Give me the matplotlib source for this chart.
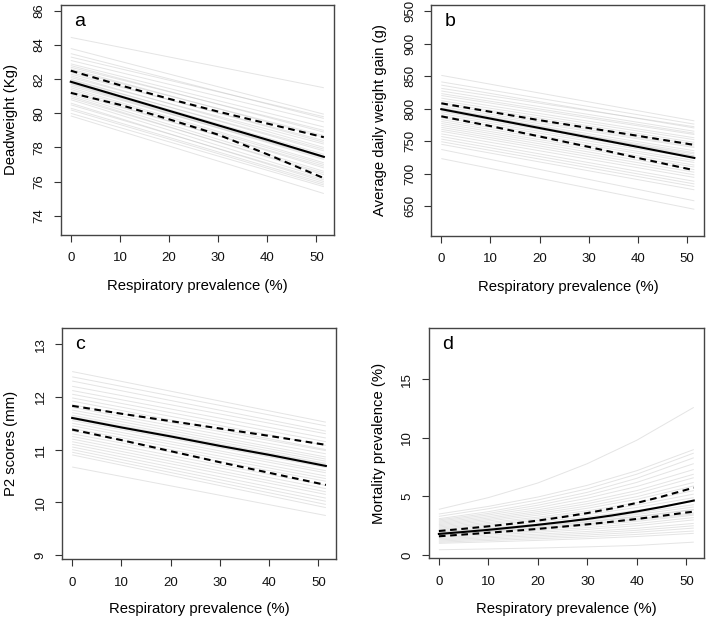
import matplotlib
matplotlib.use("Agg")
import matplotlib.pyplot as plt
import numpy as np

plt.rcParams['font.family'] = ['Liberation Sans', 'DejaVu Sans']

# ---------------- data ----------------
x_end = 51.5
x_pts = [0, 10, 20, 30, 40, 51.5]
x_fine = [0, 5, 10, 15, 20, 25, 30, 35, 40, 45, 50, 51.5]

# Panel a: Deadweight (Kg)
a_grey_start = [84.45, 83.8, 83.5, 83.3, 83.1, 82.9, 82.8, 82.7, 82.6, 82.5, 82.4, 82.3,
                82.2, 82.1, 82.0, 81.95, 81.9, 81.85, 81.8, 81.75, 81.7, 81.6, 81.5, 81.4,
                81.3, 81.2, 81.1, 81.0, 80.9, 80.8, 80.6, 80.5, 80.3, 80.2, 80.0, 79.85]
a_grey_end = [81.5, 79.95, 79.7, 79.8, 79.5, 79.2, 78.9, 79.0, 78.6, 78.7, 78.3, 78.4,
              78.0, 78.2, 77.8, 77.9, 77.6, 77.5, 77.45, 77.4, 77.3, 77.4, 77.1, 77.0,
              76.8, 76.9, 76.6, 76.4, 76.5, 76.2, 76.0, 76.1, 75.9, 75.8, 75.7, 75.3]
a_mean = [81.85, 81.0, 80.15, 79.3, 78.45, 77.45]
a_upper = [82.5, 81.65, 80.85, 80.1, 79.4, 78.6]
a_lower = [81.2, 80.5, 79.65, 78.75, 77.6, 76.2]

# Panel b: Average daily weight gain (g)
b_grey_start = [851, 841, 836, 831, 827, 823, 820, 816, 812, 809, 806, 803, 801, 800, 798,
                797, 795, 792, 789, 786, 783, 780, 777, 774, 771, 768, 765, 761, 757, 753,
                749, 745, 737, 723]
b_grey_end = [781, 776, 770, 772, 765, 762, 760, 755, 752, 748, 745, 742, 727, 740, 735,
              724, 732, 730, 727, 724, 720, 717, 713, 710, 706, 702, 698, 694, 688, 684,
              680, 675, 658, 645]
b_mean = [799, 784.5, 770, 755.5, 741, 724]
b_upper = [808, 795, 782, 770, 758, 744]
b_lower = [788, 773, 757, 741, 724, 705]

# Panel c: P2 scores (mm)
c_grey_start = [12.48, 12.38, 12.3, 12.2, 12.12, 12.05, 11.98, 11.92, 11.85, 11.8, 11.75,
                11.7, 11.65, 11.62, 11.6, 11.58, 11.55, 11.5, 11.45, 11.4, 11.35, 11.3,
                11.25, 11.2, 11.15, 11.1, 11.05, 11.0, 10.95, 10.9, 10.67]
c_grey_end = [11.52, 11.45, 11.35, 11.3, 11.22, 11.15, 11.08, 11.0, 10.98, 10.92, 10.86,
              10.82, 10.78, 10.74, 10.72, 10.68, 10.66, 10.6, 10.56, 10.5, 10.45, 10.4,
              10.32, 10.26, 10.2, 10.15, 10.08, 10.02, 9.96, 9.9, 9.75]
c_mean = [11.6, 11.42, 11.25, 11.07, 10.9, 10.69]
c_upper = [11.83, 11.68, 11.54, 11.40, 11.26, 11.09]
c_lower = [11.38, 11.18, 10.97, 10.76, 10.56, 10.33]

# Panel d: Mortality prevalence (%)
d_grey = [
    [3.9, 4.9, 6.15, 7.8, 9.8, 12.6],
    [3.5, 4.15, 4.95, 5.95, 7.2, 9.0],
    [3.3, 3.95, 4.7, 5.65, 6.9, 8.7],
    [3.1, 3.7, 4.45, 5.35, 6.55, 8.3],
    [3.0, 3.55, 4.25, 5.1, 6.2, 7.8],
    [2.9, 3.42, 4.05, 4.85, 5.85, 7.3],
    [2.8, 3.28, 3.86, 4.58, 5.5, 6.9],
    [2.7, 3.15, 3.7, 4.38, 5.25, 6.6],
    [2.6, 3.03, 3.55, 4.18, 4.98, 6.2],
    [2.5, 2.91, 3.4, 3.99, 4.75, 5.9],
    [2.4, 2.78, 3.23, 3.78, 4.47, 5.5],
    [2.3, 2.67, 3.1, 3.62, 4.27, 5.2],
    [2.2, 2.55, 2.96, 3.45, 4.06, 4.9],
    [2.1, 2.43, 2.81, 3.26, 3.81, 4.6],
    [2.0, 2.31, 2.66, 3.08, 3.59, 4.3],
    [1.95, 2.24, 2.58, 2.98, 3.46, 4.1],
    [1.9, 2.17, 2.49, 2.86, 3.3, 3.9],
    [1.85, 2.12, 2.43, 2.8, 3.25, 3.85],
    [1.8, 2.05, 2.34, 2.68, 3.08, 3.6],
    [1.75, 2.0, 2.28, 2.61, 3.0, 3.5],
    [1.7, 1.93, 2.2, 2.5, 2.87, 3.4],
    [1.6, 1.82, 2.06, 2.34, 2.68, 3.2],
    [1.5, 1.7, 1.93, 2.19, 2.5, 3.0],
    [1.4, 1.58, 1.78, 2.01, 2.28, 2.7],
    [1.3, 1.47, 1.65, 1.86, 2.11, 2.5],
    [1.2, 1.35, 1.52, 1.71, 1.94, 2.3],
    [1.1, 1.24, 1.39, 1.56, 1.76, 2.05],
    [1.0, 1.12, 1.25, 1.4, 1.58, 1.85],
    [0.45, 0.52, 0.6, 0.7, 0.82, 1.1],
]
d_mean = [1.8, 1.97, 2.15, 2.36, 2.58, 2.82, 3.08, 3.38, 3.72, 4.1, 4.52, 4.65]
d_upper = [2.05, 2.24, 2.45, 2.68, 2.94, 3.24, 3.58, 3.98, 4.45, 4.98, 5.57, 5.75]
d_lower = [1.6, 1.75, 1.9, 2.06, 2.23, 2.42, 2.62, 2.84, 3.08, 3.34, 3.63, 3.7]

x_ticks = [0, 10, 20, 30, 40, 50]
a_yticks = [74, 76, 78, 80, 82, 84, 86]
b_yticks = [650, 700, 750, 800, 850, 900, 950]
c_yticks = [9, 10, 11, 12, 13]
d_yticks = [0, 5, 10, 15]

xlabel = "Respiratory prevalence (%)"

# ---------------- figure ----------------
fig = plt.figure(figsize=(7.08, 6.2), dpi=100)

panels = [
    dict(rect=[0.0857, 0.621, 0.386, 0.3715], ylim=(72.87, 86.37), yticks=a_yticks,
         ylabel="Deadweight (Kg)", letter="a", lab_x=-0.157, xl_y=-0.19),
    dict(rect=[0.609, 0.6198, 0.386, 0.3726], ylim=(604.3, 959.7), yticks=b_yticks,
         ylabel="Average daily weight gain (g)", letter="b", lab_x=-0.162, xl_y=-0.19),
    dict(rect=[0.0876, 0.0979, 0.387, 0.3726], ylim=(8.92, 13.30), yticks=c_yticks,
         ylabel="P2 scores (mm)", letter="c", lab_x=-0.159, xl_y=-0.185),
    dict(rect=[0.6055, 0.0995, 0.3888, 0.371], ylim=(-0.28, 19.35), yticks=d_yticks,
         ylabel="Mortality prevalence (%)", letter="d", lab_x=-0.156, xl_y=-0.19),
]

grey_kw = dict(color='#c4c4c4', lw=0.7, alpha=0.45, solid_capstyle='butt')
mean_kw = dict(color='black', lw=1.5)
dash_kw = dict(color='black', lw=1.5, dashes=(3.2, 2.2))

axes = []
for p in panels:
    ax = fig.add_axes(p['rect'])
    axes.append(ax)
    ax.set_xlim(-2.06, 53.56)
    ax.set_ylim(*p['ylim'])
    ax.set_xticks(x_ticks)
    ax.set_yticks(p['yticks'])
    ax.tick_params(axis='both', direction='out', length=5, width=0.8, colors='#333333',
                   labelsize=9.5, labelcolor='#111111')
    ax.tick_params(axis='x', pad=7.5)
    ax.tick_params(axis='y', pad=6)
    for lab in ax.get_yticklabels():
        lab.set_rotation(90)
        lab.set_va('center')
    for s in ax.spines.values():
        s.set_color('#444444')
        s.set_linewidth(1.0)
    ax.set_xlabel(xlabel, fontsize=10.7)
    ax.xaxis.set_label_coords(0.5, p['xl_y'])
    ax.set_ylabel(p['ylabel'], fontsize=10.7)
    ax.yaxis.set_label_coords(p['lab_x'], 0.5)
    ax.text(0.048, 0.965, p['letter'], transform=ax.transAxes, ha='left', va='top',
            fontsize=14)

# panel a
ax = axes[0]
for s0, s1 in zip(a_grey_start, a_grey_end):
    ax.plot([0, x_end], [s0, s1], **grey_kw)
ax.plot(x_pts, a_mean, **mean_kw)
ax.plot(x_pts, a_upper, **dash_kw)
ax.plot(x_pts, a_lower, **dash_kw)

# panel b
ax = axes[1]
for s0, s1 in zip(b_grey_start, b_grey_end):
    ax.plot([0, x_end], [s0, s1], **grey_kw)
ax.plot(x_pts, b_mean, **mean_kw)
ax.plot(x_pts, b_upper, **dash_kw)
ax.plot(x_pts, b_lower, **dash_kw)

# panel c
ax = axes[2]
for s0, s1 in zip(c_grey_start, c_grey_end):
    ax.plot([0, x_end], [s0, s1], **grey_kw)
ax.plot(x_pts, c_mean, **mean_kw)
ax.plot(x_pts, c_upper, **dash_kw)
ax.plot(x_pts, c_lower, **dash_kw)

# panel d
ax = axes[3]
for curve in d_grey:
    ax.plot(x_pts, curve, **grey_kw)
ax.plot(x_fine, d_mean, **mean_kw)
ax.plot(x_fine, d_upper, **dash_kw)
ax.plot(x_fine, d_lower, **dash_kw)

fig.savefig("out.png", dpi=100)
